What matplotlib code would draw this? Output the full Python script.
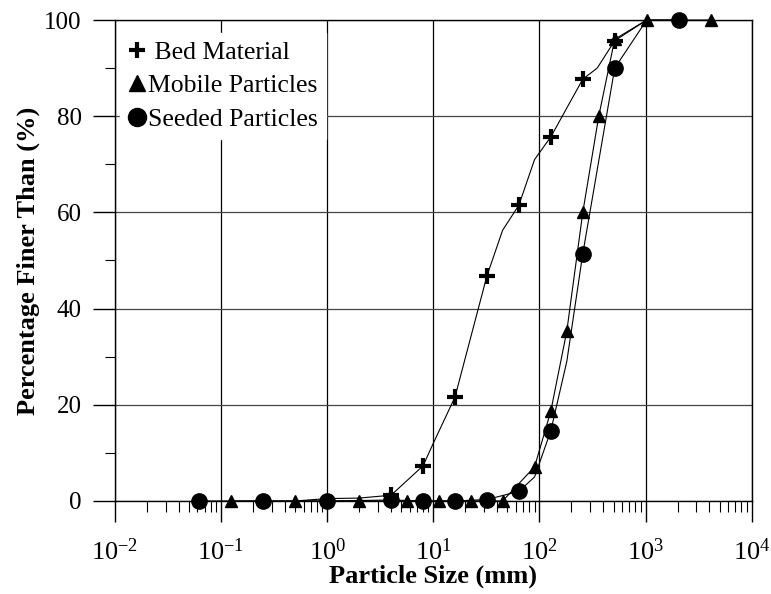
import math
import matplotlib
matplotlib.use("Agg")
import matplotlib.pyplot as plt
from matplotlib.lines import Line2D
from matplotlib.ticker import LogLocator, FuncFormatter, MultipleLocator, NullFormatter

plt.rcParams["font.family"] = ["Liberation Serif", "DejaVu Serif"]
plt.rcParams["mathtext.fontset"] = "custom"
plt.rcParams["mathtext.rm"] = "Liberation Serif"
plt.rcParams["mathtext.it"] = "Liberation Serif:italic"

# Bed material (line has a few extra points without markers)
bed_size = [0.5, 1, 2, 4, 8, 10, 16, 32, 45, 64, 90, 128, 256, 350, 512, 1024]
bed_pct = [0, 0.5, 0.6, 1.2, 7.3, 12, 21.6, 46.8, 56.3, 61.5, 71, 75.7, 87.7, 90, 95.7, 100]
bed_marked = [3, 4, 6, 7, 9, 11, 12, 14]

# Mobile particles
mob_size = [0.125, 0.5, 2, 5.66, 11.3, 22.6, 45, 90, 128, 181, 256, 362, 512, 1024, 4096]
mob_pct = [0, 0, 0, 0, 0, 0, 0, 7.1, 18.7, 35.3, 60, 80, 96, 100, 100]

# Seeded particles
seed_size = [0.0625, 0.25, 1, 4, 8, 16, 32, 64, 90, 128, 181, 256, 512, 1024, 2048]
seed_pct = [0, 0, 0, 0.2, 0, 0, 0.3, 2, 5, 14.6, 29, 51.4, 90, 100, 100]
seed_marked = [0, 1, 2, 3, 4, 5, 6, 7, 9, 11, 12, 14]

fig = plt.figure(figsize=(7.71, 5.94), dpi=100)
ax = fig.add_axes([0.149, 0.1566, 0.826, 0.8097])

ax.plot(bed_size, bed_pct, color="black", lw=0.8, zorder=3, clip_on=False)
ax.plot([bed_size[i] for i in bed_marked], [bed_pct[i] for i in bed_marked],
        ls="none", marker="+", ms=12, mew=3, color="black", zorder=4, clip_on=False)
ax.plot(mob_size, mob_pct, color="black", lw=0.8, marker="^", ms=9, zorder=4, clip_on=False)
ax.plot(seed_size, seed_pct, color="black", lw=0.8, marker="o", ms=11,
        markevery=seed_marked, zorder=5, clip_on=False)

ax.set_xscale("log")
ax.set_xlim(1e-2, 1e4)
ax.set_ylim(0, 100)

ax.xaxis.set_major_locator(LogLocator(base=10, numticks=10))
ax.xaxis.set_minor_locator(LogLocator(base=10, subs=range(2, 10), numticks=20))
ax.xaxis.set_minor_formatter(NullFormatter())
ax.xaxis.set_major_formatter(FuncFormatter(lambda v, p: r"$10^{%d}$" % round(math.log10(v))))
ax.yaxis.set_major_locator(MultipleLocator(20))
ax.yaxis.set_minor_locator(MultipleLocator(10))

ax.tick_params(axis="x", which="major", direction="out", length=15, width=1, labelsize=19, pad=12)
ax.tick_params(axis="x", which="minor", direction="out", length=8, width=0.8)
ax.tick_params(axis="y", which="major", direction="out", length=16, width=1, labelsize=18, pad=8)
ax.tick_params(axis="y", which="minor", direction="out", length=7, width=0.8)

ax.grid(True, axis="x", which="major", color="black", lw=0.9)
ax.grid(True, axis="y", which="major", color="#444444", lw=0.9)
for s in ax.spines.values():
    s.set_linewidth(1)

ax.set_xlabel("Particle Size (mm)", fontsize=19, fontweight="bold", labelpad=0)
ax.set_ylabel("Percentage Finer Than (%)", fontsize=19, fontweight="bold", labelpad=3)

handles = [
    Line2D([], [], ls="none", marker="+", ms=12, mew=3, color="black"),
    Line2D([], [], ls="none", marker="^", ms=11, color="black"),
    Line2D([], [], ls="none", marker="o", ms=13, color="black"),
]
leg = ax.legend(handles, [" Bed Material", "Mobile Particles", "Seeded Particles"],
                loc="upper left", bbox_to_anchor=(-0.012, 1.0), fontsize=18.5,
                handlelength=0.7, handletextpad=0.1, labelspacing=0.42,
                borderpad=0.3, fancybox=False, framealpha=1, edgecolor="white")
leg.set_zorder(6)

fig.savefig("out.png", dpi=100)
